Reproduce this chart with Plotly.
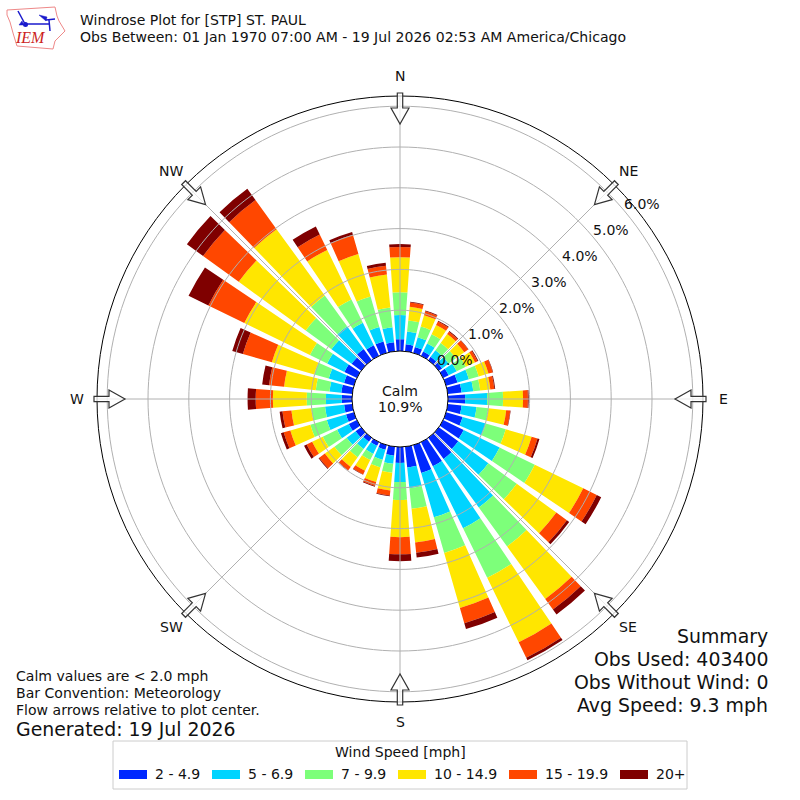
import numpy as np
import plotly.graph_objects as go

directions = list(range(0, 360, 10))
speed_bins = ["2 - 4.9", "5 - 6.9", "7 - 9.9", "10 - 14.9", "15 - 19.9", "20+"]
bin_colors = ["#0028ff", "#00d4ff", "#7dff7a", "#ffe600", "#ff4700", "#7f0000"]

pct_2_4 = [.29,.17,.15,.12,.10,.10,.15,.29,.34,.42,.34,.42,.56,.59,.64,.66,.71,.51,
           .39,.22,.12,.10,.12,.17,.22,.20,.20,.25,.27,.25,.34,.29,.34,.29,.29,.22]
pct_5_6 = [.59,.32,.25,.22,.20,.20,.22,.29,.29,.54,.37,.59,.98,.91,1.47,1.69,1.13,.51,
           .47,.20,.25,.22,.22,.27,.32,.49,.47,.39,.29,.39,.47,.61,.69,.61,.37,.37]
pct_7_9 = [.56,.27,.27,.25,.22,.22,.25,.25,.17,.39,.29,.51,.96,.86,1.18,1.35,.91,.51,
           .44,.22,.20,.17,.25,.37,.39,.42,.34,.47,.34,.37,.47,.78,.93,.64,.78,.49]
pct_10_14 = [.86,.34,.29,.25,.27,.25,.25,.25,.25,.49,.44,.66,1.32,1.20,1.59,1.76,1.40,.83,
             .91,.44,.37,.29,.29,.29,.29,.51,.49,.83,.78,1.08,1.79,2.03,2.01,1.35,1.08,.81]
pct_15_19 = [.25,.10,.10,.10,.07,.12,.07,.11,.10,.12,.10,.15,.37,.32,.32,.42,.39,.25,
             .42,.12,.10,.10,.10,.17,.15,.17,.22,.42,.37,.74,.98,1.08,.88,.42,.49,.22]
pct_20 = [.07,.02,.02,.02,.02,.01,.02,.01,.02,.02,.01,.05,.12,.07,.15,.07,.15,.12,
          .17,.02,.02,.01,.01,.02,.07,.07,.07,.20,.17,.27,.54,.49,.34,.22,.07,.07]
series = [pct_2_4, pct_5_6, pct_7_9, pct_10_14, pct_15_19, pct_20]

ring_values = [0, 1, 2, 3, 4, 5, 6]
compass_angles = [0, 45, 90, 135, 180, 225, 270, 315]
compass_labels = ["N", "NE", "E", "SE", "S", "SW", "W", "NW"]
summary_lines = ["Summary", "Obs Used: 403400", "Obs Without Wind: 0", "Avg Speed: 9.3 mph"]
note_lines = ["Calm values are < 2.0 mph", "Bar Convention: Meteorology", "Flow arrows relative to plot center."]

CX, CY, ROUT, RHOLE = 400, 399, 303, 48
RMAX = 6.25
FONT = "DejaVu Sans"
GRID = "#b0b0b0"
SMALL = 14.05
LARGE = 18.9


def px(x):
    return x / 800


def py(y):
    return 1 - y / 800


def text(s, x, y, size=SMALL, xanchor="left", color="#111111", family=FONT, **kw):
    return dict(text=s, x=px(x), y=py(y), xref="paper", yref="paper", showarrow=False,
                xanchor=xanchor, yanchor="middle", borderpad=0, borderwidth=0,
                font=dict(family=family, size=size, color=color), **kw)


def pixel_path(points, close=True):
    d = "M" + " L".join(f"{px(a):.5f},{py(b):.5f}" for a, b in points)
    return d + (" Z" if close else "")


fig = go.Figure()
for name, vals, col in zip(speed_bins, series, bin_colors):
    fig.add_trace(go.Barpolar(r=vals, theta=directions, width=8, name=name,
                              marker=dict(color=col, line=dict(width=0)), showlegend=False))

# grid over the bars
ring_theta = np.arange(0, 361, 2)
for v in ring_values[1:]:
    fig.add_trace(go.Scatterpolar(r=[v] * len(ring_theta), theta=ring_theta, mode="lines",
                                  line=dict(color=GRID, width=1), hoverinfo="skip", showlegend=False))
for a in compass_angles:
    fig.add_trace(go.Scatterpolar(r=[0, RMAX], theta=[a, a], mode="lines",
                                  line=dict(color=GRID, width=1), hoverinfo="skip", showlegend=False))

shapes = []
# flow arrows
arrow = [(306, -2.7), (291, -2.7), (291, -9), (275, 0), (291, 9), (291, 2.7), (306, 2.7)]
for a in compass_angles:
    t = np.radians(a)
    pts = [(CX + R * np.sin(t) + w * np.cos(t), CY - R * np.cos(t) + w * np.sin(t)) for R, w in arrow]
    shapes.append(dict(type="path", xref="paper", yref="paper", path=pixel_path(pts),
                       fillcolor="rgba(255,255,255,0.75)", line=dict(color="#333333", width=1.2)))

# logo
iowa = [(7, 10), (55, 7), (57, 16), (59, 21), (65, 31), (55, 41), (53, 49), (17, 46), (13, 33), (10, 22), (7, 15)]
shapes.append(dict(type="path", xref="paper", yref="paper", path=pixel_path(iowa),
                   fillcolor="white", line=dict(color="#e88", width=1)))
for seg in [[(25, 24), (49, 24)], [(18, 11), (25, 24)], [(46, 20), (55, 19)], [(49, 20), (50, 31)]]:
    shapes.append(dict(type="path", xref="paper", yref="paper", path=pixel_path(seg, close=False),
                       line=dict(color="#1a1acc", width=1.5)))
for tri in [[(39, 15), (47, 17), (46, 21)], [(19, 25), (22, 21), (24, 25)]]:
    shapes.append(dict(type="path", xref="paper", yref="paper", path=pixel_path(tri),
                       fillcolor="#1a1acc", line=dict(color="#1a1acc", width=0.5)))
shapes.append(dict(type="circle", xref="paper", yref="paper", x0=px(23), x1=px(28), y0=py(27), y1=py(22),
                   fillcolor="#1a1acc", line=dict(width=0)))

# legend frame and swatches
shapes.append(dict(type="rect", xref="paper", yref="paper", x0=px(113), x1=px(687), y0=py(789), y1=py(741),
                   fillcolor="white", line=dict(color="#cccccc", width=1)))
swatch_x = [119, 212, 305, 398, 509, 620]
for x, col in zip(swatch_x, bin_colors):
    shapes.append(dict(type="rect", xref="paper", yref="paper", x0=px(x), x1=px(x + 28), y0=py(779), y1=py(770),
                       fillcolor=col, line=dict(width=0)))

ann = [
    text("Windrose Plot for [STP] ST. PAUL", 80, 20),
    text("Obs Between: 01 Jan 1970 07:00 AM - 19 Jul 2026 02:53 AM America/Chicago", 80, 37),
    text("Calm", 400, 391, xanchor="center"),
    text("10.9%", 400, 407, xanchor="center"),
    text("<i>IEM</i>", 30.5, 38, size=16, xanchor="center", color="#cc2222", family="Liberation Serif"),
    text("Generated: 19 Jul 2026", 16, 729, size=LARGE),
    text("Wind Speed [mph]", 400, 752, xanchor="center"),
]
for i, s in enumerate(note_lines):
    ann.append(text(s, 16, 676 + 17 * i))
for i, s in enumerate(summary_lines):
    ann.append(text(s, 768, 635.5 + 23 * i, size=LARGE, xanchor="right"))
for v in ring_values:
    ann.append(text(f"{v:.1f}%", 455 + 31.2 * v, 360 - 26 * v, xanchor="center"))
for x, s in zip(swatch_x, speed_bins):
    ann.append(text(s, x + 36, 774))
for a, s in zip(compass_angles, compass_labels):
    t = np.radians(a)
    ann.append(text(s, CX + 323 * np.sin(t), CY - 323 * np.cos(t), xanchor="center"))

fig.update_layout(
    width=800, height=800, margin=dict(l=0, r=0, t=0, b=0), paper_bgcolor="white",
    showlegend=False, shapes=shapes, annotations=ann,
    font=dict(family=FONT, size=SMALL, color="#111111"),
    polar=dict(
        domain=dict(x=[px(CX - ROUT), px(CX + ROUT)], y=[py(CY + ROUT), py(CY - ROUT)]),
        hole=RHOLE / ROUT, bgcolor="white", barmode="stack",
        radialaxis=dict(range=[0, RMAX], showgrid=False, showticklabels=False, showline=False, ticks=""),
        angularaxis=dict(direction="clockwise", rotation=90, thetaunit="degrees",
                         tickmode="array", tickvals=compass_angles, ticktext=compass_labels,
                         showgrid=False, showline=True, linecolor="black", linewidth=1,
                         ticks="", showticklabels=False),
    ),
)
fig.write_html("out.html", config={"displayModeBar": False},
               post_script="document.body.style.margin='0';document.documentElement.style.overflow='hidden';")
